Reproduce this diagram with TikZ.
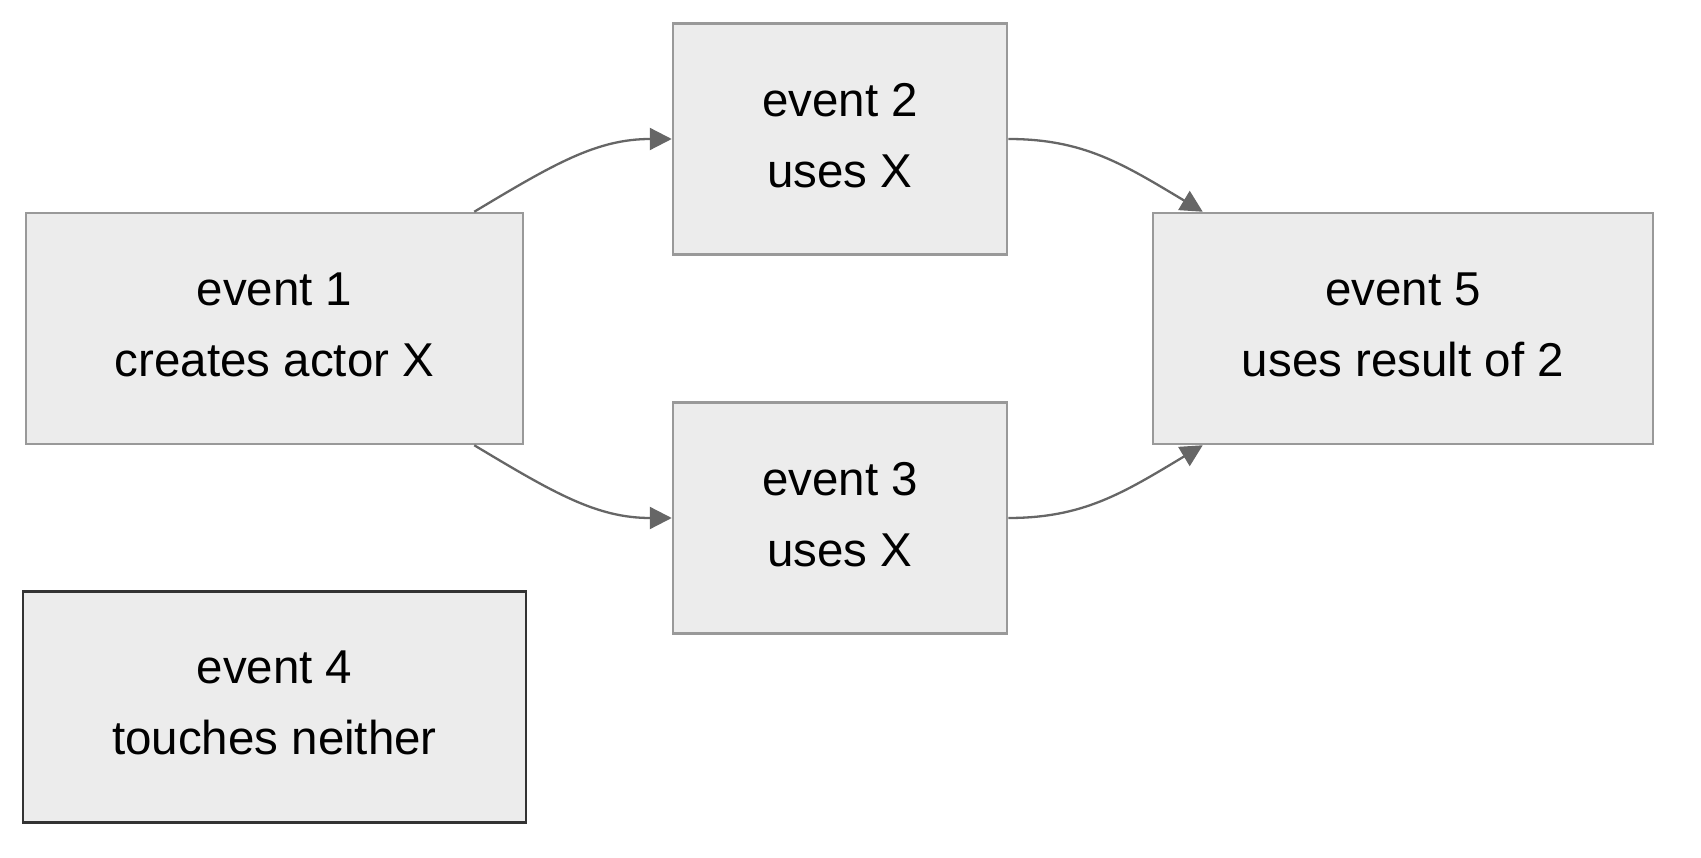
\documentclass[tikz,border=0pt]{standalone}
\usepackage{fontspec}
\setmainfont{Liberation Sans}
\usetikzlibrary{arrows.meta,calc}
\definecolor{boxfill}{HTML}{ECECEC}
\definecolor{boxline}{HTML}{999999}
\definecolor{darkline}{HTML}{333333}
\definecolor{edgecol}{HTML}{666666}
\newcommand{\dropfix}{\rule[-8pt]{0pt}{8pt}}
\begin{document}
\begin{tikzpicture}[x=1pt,y=-1pt,
  evbox/.style={draw=boxline,fill=boxfill,line width=2.5pt,rectangle,inner sep=0pt,
    minimum height=231pt,align=center,font=\fontsize{47.5}{71}\selectfont},
  link/.style={draw=edgecol,line width=2.3pt,-{Triangle[length=22pt,width=22pt]}}]
\useasboundingbox (0,0) rectangle (1701,858);
\node[evbox,minimum width=497pt] (e1) at (274.5,328.5) {event 1\\creates actor X\dropfix};
\node[evbox,minimum width=334pt] (e2) at (840,139) {event 2\\uses X\dropfix};
\node[evbox,minimum width=334pt] (e3) at (840,518) {event 3\\uses X\dropfix};
\node[evbox,minimum width=503pt,draw=darkline] (e4) at (274.5,707) {event 4\\touches neither\dropfix};
\node[evbox,minimum width=500pt] (e5) at (1403,328.5) {event 5\\uses result of 2\dropfix};
\coordinate (s1) at ($(e1.north east)+(-50,0)$);
\coordinate (s3) at ($(e1.south east)+(-50,0)$);
\coordinate (t2) at ($(e5.north west)+(51,0)$);
\coordinate (t3) at ($(e5.south west)+(51,0)$);
\draw[link] (s1) .. controls ($(s1)+(80,-48)$) and ($(e2.west)+(-75,0)$) .. (e2.west);
\draw[link] (s3) .. controls ($(s3)+(80,48)$) and ($(e3.west)+(-75,0)$) .. (e3.west);
\draw[link] (e2.east) .. controls ($(e2.east)+(75,0)$) and ($(t2)+(-80,-48)$) .. (t2);
\draw[link] (e3.east) .. controls ($(e3.east)+(75,0)$) and ($(t3)+(-80,48)$) .. (t3);
\end{tikzpicture}
\end{document}
